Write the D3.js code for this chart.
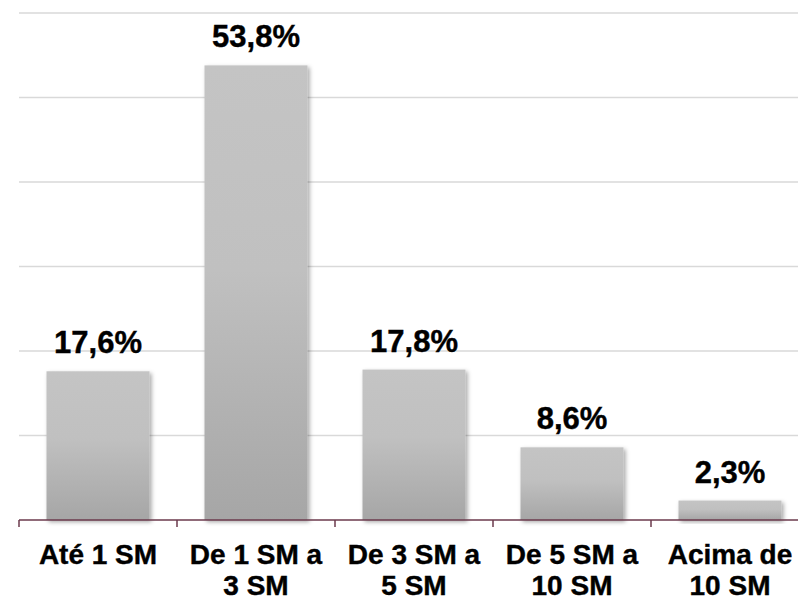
<!DOCTYPE html>
<html lang="pt">
<head>
    <meta charset="UTF-8">
    <script src="https://d3js.org/d3.v7.min.js"></script>
    <title>Renda</title>
    <style>
        html, body { margin: 0; padding: 0; background: #fff; }
        svg { display: block; font-family: "Liberation Sans", Arial, sans-serif; }
    </style>
</head>
<body>
    <div id="chart"></div>

    <script type="text/javascript">
        const categories = ["Até 1 SM", "De 1 SM a 3 SM", "De 3 SM a 5 SM", "De 5 SM a 10 SM", "Acima de 10 SM"];
        const categoryLines = [["Até 1 SM"], ["De 1 SM a", "3 SM"], ["De 3 SM a", "5 SM"], ["De 5 SM a", "10 SM"], ["Acima de", "10 SM"]];
        const values = [17.6, 53.8, 17.8, 8.6, 2.3];
        const valueLabels = ["17,6%", "53,8%", "17,8%", "8,6%", "2,3%"];
        const gridTicks = [0, 10, 20, 30, 40, 50, 60];

        const width = 798;
        const height = 599;
        const plotLeft = 19, plotRight = 809, plotTop = 13, plotBottom = 520;

        const svg = d3.select("#chart")
            .append("svg")
            .attr("width", width)
            .attr("height", height);

        const defs = svg.append("defs");
        const grad = defs.append("linearGradient")
            .attr("id", "barGrad")
            .attr("x1", 0).attr("y1", 0).attr("x2", 0).attr("y2", 1);
        grad.append("stop").attr("offset", "0%").attr("stop-color", "#c4c4c4");
        grad.append("stop").attr("offset", "45%").attr("stop-color", "#c0c0c0");
        grad.append("stop").attr("offset", "100%").attr("stop-color", "#a6a6a6");

        const shadow = defs.append("filter")
            .attr("id", "shadow")
            .attr("x", "-10%").attr("y", "-10%")
            .attr("width", "130%").attr("height", "130%");
        shadow.append("feDropShadow")
            .attr("dx", 2).attr("dy", 2)
            .attr("stdDeviation", 2)
            .attr("flood-color", "#000")
            .attr("flood-opacity", 0.35);

        const x = d3.scaleBand()
            .domain(categories)
            .range([plotLeft, plotRight])
            .paddingInner(0.348)
            .paddingOuter(0.174);

        const y = d3.scaleLinear()
            .domain([0, 60])
            .range([plotBottom, plotTop]);

        // gridlines
        svg.selectAll(".grid")
            .data(gridTicks.filter(d => d > 0))
            .enter()
            .append("line")
            .attr("class", "grid")
            .attr("x1", plotLeft)
            .attr("x2", width)
            .attr("y1", d => y(d))
            .attr("y2", d => y(d))
            .attr("stroke", "#d9d9d9")
            .attr("stroke-width", 1.5);

        // bars
        svg.selectAll(".bar")
            .data(values)
            .enter()
            .append("rect")
            .attr("class", "bar")
            .attr("x", (d, i) => x(categories[i]))
            .attr("y", d => y(d))
            .attr("width", x.bandwidth())
            .attr("height", d => y(0) - y(d))
            .attr("fill", "url(#barGrad)")
            .attr("filter", "url(#shadow)");

        // value labels
        svg.selectAll(".val")
            .data(values)
            .enter()
            .append("text")
            .attr("class", "val")
            .attr("x", (d, i) => x(categories[i]) + x.bandwidth() / 2)
            .attr("y", d => y(d) - 18)
            .attr("text-anchor", "middle")
            .style("font-size", "31px")
            .style("font-weight", "bold")
            .style("fill", "#000")
            .style("stroke", "#000")
            .style("stroke-width", 0.4)
            .text((d, i) => valueLabels[i]);

        // x axis
        const step = x.step();
        const axis = svg.append("g");
        axis.append("line")
            .attr("x1", plotLeft).attr("x2", width)
            .attr("y1", plotBottom).attr("y2", plotBottom)
            .attr("stroke", "#6b3a4c")
            .attr("stroke-width", 1.5);

        axis.selectAll(".tick")
            .data(d3.range(categories.length + 1))
            .enter()
            .append("line")
            .attr("class", "tick")
            .attr("x1", i => plotLeft + i * step)
            .attr("x2", i => plotLeft + i * step)
            .attr("y1", plotBottom)
            .attr("y2", plotBottom + 7)
            .attr("stroke", "#6b3a4c")
            .attr("stroke-width", 1.5);

        const catText = svg.selectAll(".cat")
            .data(categories)
            .enter()
            .append("text")
            .attr("class", "cat")
            .attr("x", d => x(d) + x.bandwidth() / 2)
            .attr("y", 564)
            .attr("text-anchor", "middle")
            .style("font-size", "28px")
            .style("font-weight", "bold")
            .style("fill", "#000")
            .style("stroke", "#000")
            .style("stroke-width", 0.4);

        catText.selectAll("tspan")
            .data((d, i) => categoryLines[i])
            .enter()
            .append("tspan")
            .attr("x", function () { return d3.select(this.parentNode).attr("x"); })
            .attr("dy", (d, i) => i === 0 ? 0 : 31)
            .text(d => d);
    </script>
</body>
</html>
